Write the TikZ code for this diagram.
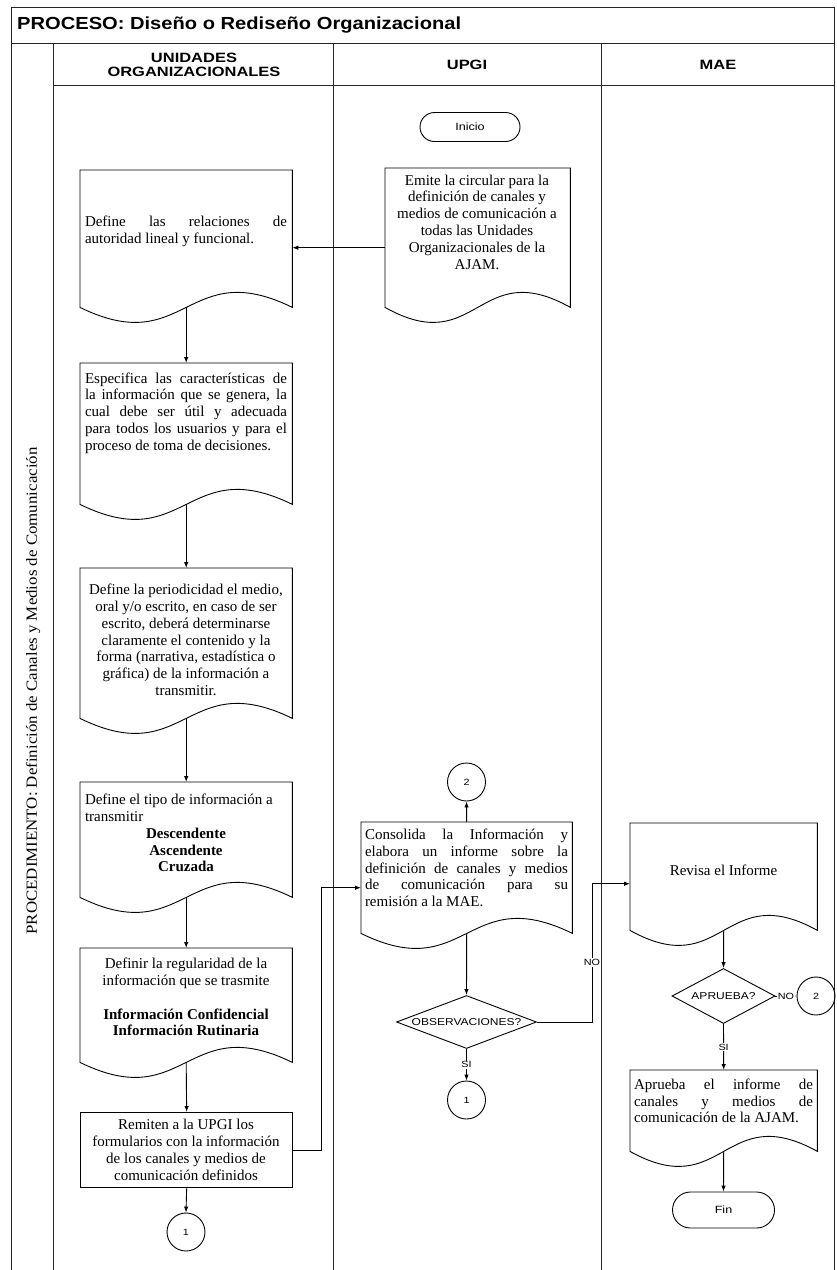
\documentclass[tikz,border=0pt]{standalone}
\usepackage{fontspec}
\setmainfont{Liberation Serif}
\newfontfamily\titlefont[FakeStretch=1.15]{Liberation Sans}
\newfontfamily\headfont[FakeStretch=1.22]{Liberation Sans}
\newfontfamily\smallsans[FakeStretch=1.2]{Liberation Sans}
\newfontfamily\procfont[FakeStretch=1.09]{Liberation Serif}
\usetikzlibrary{arrows.meta,shapes.geometric,shapes.misc,calc}

% document symbol: flat top, wavy bottom edge
\newcommand\docpath[1]{%
  \draw[boxline] let \p1=(#1.south west), \p2=(#1.south east),
        \n1={0.5*(\x2-\x1)} in
    (#1.north west) -- (#1.north east) -- (\p2)
    .. controls (\x2-\n1, \y2+52pt) and (\x1+\n1, \y1-52pt) .. (\p1) -- cycle;}

\begin{document}
\begin{tikzpicture}[x=1pt,y=-1pt,
  frame/.style={line width=1pt, draw=black!85},
  boxline/.style={line width=0.9pt, draw=black},
  shapebox/.style={rectangle, draw=none, inner sep=0pt, anchor=north west},
  txt/.style={font=\fontsize{15}{16.8}\selectfont, inner sep=0pt},
  arr/.style={-{Latex[length=6pt,width=4.5pt]}, line width=0.9pt},
  lbl/.style={font=\smallsans\fontsize{9}{10}\selectfont, fill=white, inner sep=1pt},
  conn/.style={circle, draw, line width=0.9pt, minimum size=38pt, inner sep=0pt,
               font=\smallsans\fontsize{9}{10}\selectfont},
  term/.style={rounded rectangle, draw, line width=0.9pt, inner sep=0pt,
               font=\smallsans\fontsize{10.5}{11}\selectfont},
  decision/.style={diamond, draw, line width=0.9pt, inner sep=0pt},
  dtext/.style={font=\smallsans\fontsize{10}{11}\selectfont, inner sep=0pt}]

\useasboundingbox (0,0) rectangle (836,1270);

% ---------- frame ----------
\draw[frame] (11,1270) -- (11,7) -- (834,7) -- (834,1270);
\draw[frame] (11,43) -- (834,43);
\draw[frame] (53,85) -- (834,85);
\draw[frame] (53,43) -- (53,1270);
\draw[frame] (333,43) -- (333,1270);
\draw[frame] (601,43) -- (601,1270);

\node[anchor=west, inner sep=0pt, font=\titlefont\bfseries\fontsize{17.5}{19}\selectfont]
  (title) at (17,25) {PROCESO: Diseño o Rediseño Organizacional};
\node[align=center, inner sep=0pt, font=\headfont\bfseries\fontsize{13.5}{14.5}\selectfont]
  (h1) at (194,65) {UNIDADES\\ORGANIZACIONALES};
\node[inner sep=0pt, font=\headfont\bfseries\fontsize{13.5}{14.5}\selectfont]
  (h2) at (467,65) {UPGI};
\node[inner sep=0pt, font=\headfont\bfseries\fontsize{13.5}{14.5}\selectfont]
  (h3) at (718,65) {MAE};
\node[rotate=90, inner sep=0pt, font=\procfont\fontsize{15.5}{17}\selectfont]
  (proc) at (33,691) {PROCEDIMIENTO: Definición de Canales y Medios de Comunicación};

% ---------- UNIDADES ORGANIZACIONALES ----------
\node[shapebox, minimum width=212pt, minimum height=137pt] (b1) at (80,170) {};
\node[shapebox, minimum width=212pt, minimum height=141pt] (b2) at (80,363) {};
\node[shapebox, minimum width=212pt, minimum height=150pt] (b3) at (80,568) {};
\node[shapebox, minimum width=212pt, minimum height=115pt] (b4) at (80,782) {};
\node[shapebox, minimum width=212pt, minimum height=114pt] (b5) at (80,948) {};
\node[shapebox, draw, line width=1.3pt, minimum width=212pt, minimum height=75pt] (b6) at (80,1112) {};
\docpath{b1}\docpath{b2}\docpath{b3}\docpath{b4}\docpath{b5}

\node[txt, text width=202pt, align=justify] (b1t) at (186,231)
  {Define las relaciones de\linebreak autoridad lineal y funcional.};
\node[txt, text width=202pt, align=justify] (b2t) at (186,413)
  {Especifica las características de\linebreak la información que se genera, la\linebreak
   cual debe ser útil y adecuada\linebreak para todos los usuarios y para el\linebreak
   proceso de toma de decisiones.};
\node[txt, align=center] (b3t) at (186,640)
  {Define la periodicidad el medio,\\oral y/o escrito, en caso de ser\\escrito, deberá determinarse\\
   claramente el contenido y la\\forma (narrativa, estadística o\\gráfica) de la información a\\transmitir.};
\node[txt, align=center] (b4t) at (186,833)
  {\makebox[202pt][l]{Define el tipo de información a}\\\makebox[202pt][l]{transmitir}\\
   \textbf{Descendente}\\\textbf{Ascendente}\\\textbf{Cruzada}};
\node[txt, align=center] (b5t) at (186,997)
  {Definir la regularidad de la\\información que se trasmite\\[17pt]
   \textbf{Información Confidencial}\\\textbf{Información Rutinaria}};
\node[txt, align=center] (b6t) at (186,1150)
  {Remiten a la UPGI los\\formularios con la información\\de los canales y medios de\\comunicación definidos};

\node[conn] (c1a) at (186,1232) {1};

\draw[arr] (b1.south) -- (b2.north);
\draw[arr] (b2.south) -- (b3.north);
\draw[arr] (b3.south) -- (b4.north);
\draw[arr] (b4.south) -- (b5.north);
\draw[arr] (b5.south) -- (b6.north);
\draw[arr] (b6.south) -- (c1a.north);

% ---------- UPGI ----------
\node[term, minimum width=100pt, minimum height=29pt] (ini) at (470,127) {Inicio};
\node[shapebox, minimum width=185pt, minimum height=139pt] (u1) at (385,168) {};
\node[shapebox, minimum width=211pt, minimum height=111pt] (u2) at (361,822) {};
\docpath{u1}\docpath{u2}

\node[txt, align=center] (u1t) at (477,222)
  {Emite la circular para la\\definición de canales y\\medios de comunicación a\\todas las Unidades\\
   Organizacionales de la\\AJAM.};
\node[txt, text width=203pt, align=justify] (u2t) at (466.5,868)
  {Consolida la Información y\linebreak elabora un informe sobre la\linebreak
   definición de canales y medios\linebreak de comunicación para su\linebreak remisión a la MAE.};

\node[conn] (c2a) at (466.5,782) {2};
\node[decision, minimum width=140pt, minimum height=53pt] (d1) at (466.5,1022) {};
\node[dtext] (d1t) at (d1.center) {OBSERVACIONES?};
\node[conn] (c1b) at (466.5,1100) {1};

\coordinate (u1out) at ([yshift=-10pt]u1.west);
\coordinate (u2in) at ([yshift=-10pt]u2.west);
\coordinate (r1) at (321,0);
\draw[arr] (u1out) -- (u1out -| b1.east);
\draw[arr] (b6.east) -- (b6.east -| r1) -- (r1 |- u2in) -- (u2in);
\draw[arr] (u2.north) -- (c2a.south);
\draw[arr] (u2.south) -- (d1.north);
\draw[arr] (d1.south) -- node[lbl, pos=0.5] {SI} (c1b.north);

% ---------- MAE ----------
\node[shapebox, minimum width=187pt, minimum height=107pt] (m1) at (630,823) {};
\node[shapebox, minimum width=187pt, minimum height=81pt] (m2) at (630,1070) {};
\docpath{m1}\docpath{m2}

\node[txt] (m1t) at (723.5,870) {Revisa el Informe};
\node[txt, text width=179pt, align=justify] (m2t) at (723.5,1101)
  {Aprueba el informe de\linebreak canales y medios de\linebreak comunicación de la AJAM.};

\node[decision, minimum width=103pt, minimum height=55pt] (d2) at (723.5,996) {};
\node[dtext] (d2t) at (d2.center) {APRUEBA?};
\node[conn] (c2b) at (816,996) {2};
\node[term, minimum width=102pt, minimum height=36pt] (fin) at (723.5,1210) {Fin};

\coordinate (m1in) at ([yshift=-7pt]m1.west);
\coordinate (r2) at (592,0);
\draw[arr] (d1.east) -- (d1.east -| r2) -- node[lbl, pos=0.43] {NO} (r2 |- m1in) -- (m1in);
\draw[arr] (m1.south) -- (d2.north);
\draw[arr] (d2.east) -- node[lbl] {NO} (c2b.west);
\draw[arr] (d2.south) -- node[lbl, pos=0.5] {SI} (m2.north);
\draw[arr] (m2.south) -- (fin.north);

\end{tikzpicture}
\end{document}
